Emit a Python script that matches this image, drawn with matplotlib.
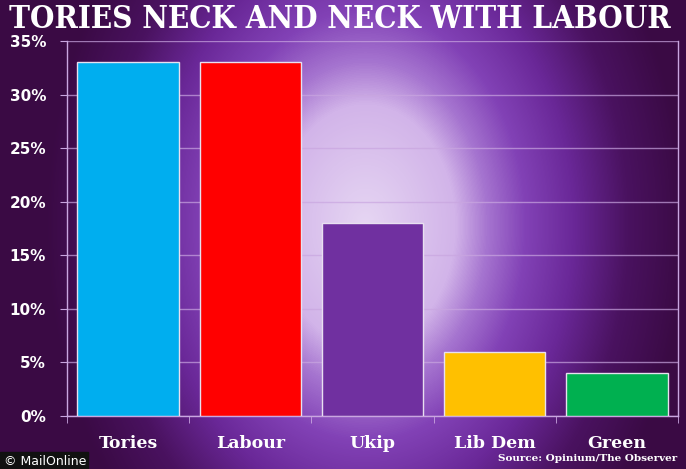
import matplotlib
matplotlib.use("Agg")
import matplotlib.pyplot as plt
import numpy as np
from matplotlib.colors import LinearSegmentedColormap

parties = ["Tories", "Labour", "Ukip", "Lib Dem", "Green"]
shares = [33, 33, 18, 6, 4]
bar_colors = ["#00aeef", "#ff0000", "#7030a0", "#ffc000", "#00b050"]
yticks = [0, 5, 10, 15, 20, 25, 30, 35]
title = "TORIES NECK AND NECK WITH LABOUR"
source = "Source: Opinium/The Observer"

W, H = 686, 469
fig = plt.figure(figsize=(W / 100, H / 100), dpi=100)

# purple spotlight background
bg = fig.add_axes([0, 0, 1, 1])
xx, yy = np.meshgrid(np.arange(W), np.arange(H))
d = np.sqrt(((xx - 365) / 320.0) ** 2 + ((yy - 225) / 430.0) ** 2)
cmap = LinearSegmentedColormap.from_list(
    "spot",
    [(0.0, "#e6d6f3"), (0.28, "#d2b4e9"), (0.38, "#a675d0"), (0.5, "#8242b6"),
     (0.65, "#6a2898"), (0.82, "#4a1260"), (1.0, "#3a0a44")])
bg.imshow(np.clip(d, 0, 1), cmap=cmap, vmin=0, vmax=1, aspect="auto",
          extent=[0, W, H, 0], interpolation="bilinear")
bg.set_xlim(0, W)
bg.set_ylim(H, 0)
bg.axis("off")

line_col = "#c9a6e0"
ax = fig.add_axes([67 / W, 1 - 416 / H, (678 - 67) / W, (416 - 41) / H])
ax.patch.set_alpha(0)
x = np.arange(len(parties))
ax.bar(x, shares, width=0.83, color=bar_colors, edgecolor="#e8e0f0",
       linewidth=1.0, zorder=3)
ax.set_xlim(-0.5, len(parties) - 0.5)
ax.set_ylim(0, 35)
ax.set_yticks(yticks)
ax.set_yticklabels([f"{v}%" for v in yticks])
ax.yaxis.grid(True, color=line_col, linewidth=1, alpha=0.7, zorder=1)
ax.set_xticks(np.arange(len(parties) + 1) - 0.5, minor=True)
ax.set_xticks(x)
ax.set_xticklabels(parties)
ax.tick_params(axis="x", which="major", length=0, pad=14)
ax.tick_params(axis="x", which="minor", length=5, color=line_col)
ax.tick_params(axis="y", length=5, color=line_col, pad=10)
for t in ax.get_xticklabels():
    t.set_fontfamily("DejaVu Serif")
    t.set_fontweight("bold")
    t.set_fontsize(12.5)
    t.set_color("white")
for t in ax.get_yticklabels():
    t.set_fontfamily("DejaVu Sans")
    t.set_fontweight("bold")
    t.set_fontsize(11)
    t.set_color("white")
for s in ax.spines.values():
    s.set_color(line_col)
    s.set_linewidth(1)
ax.spines["top"].set_visible(False)

fig.text(340 / W, 1 - 19 / H, title, ha="center", va="center", color="white",
         fontsize=22.5, fontweight="bold", family="DejaVu Serif",
         fontstretch="condensed")
fig.text(677 / W, 1 - 458 / H, source, ha="right", va="center", color="white",
         fontsize=7.5, fontweight="bold", family="DejaVu Serif")
fig.patches.append(plt.Rectangle((0, 0), 88 / W, 17 / H, transform=fig.transFigure,
                                 color="#111111", zorder=5))
fig.text(4 / W, 8 / H, "\u00a9 MailOnline", ha="left", va="center", color="white",
         fontsize=9, family="DejaVu Sans", zorder=6)

fig.savefig("out.png", dpi=100)
